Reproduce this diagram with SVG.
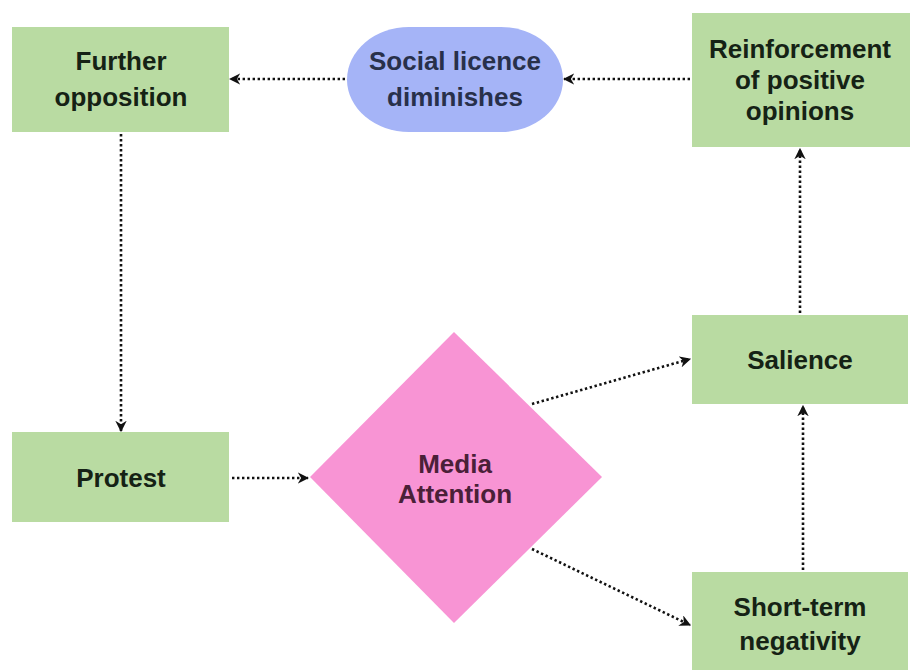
<svg xmlns="http://www.w3.org/2000/svg" width="912" height="670" viewBox="0 0 912 670">
  <style>
    .box { fill: #b9dba2; }
    .oval { fill: #a5b4f7; }
    .diamond { fill: #f894d4; }
    text { font-family: "Liberation Sans", Arial, sans-serif; font-weight: bold; font-size: 26px; text-anchor: middle; }
    .t-green { fill: #152215; }
    .t-blue { fill: #28304a; }
    .t-pink { fill: #4a2038; }
    .link { fill: none; stroke: #111; stroke-width: 2.6; stroke-dasharray: 2.4 2.6; marker-end: url(#arrow); }
  </style>
  <defs>
    <marker id="arrow" viewBox="0 0 10 10" refX="9" refY="5" markerWidth="4.4" markerHeight="4.4" orient="auto" markerUnits="strokeWidth">
      <path d="M0,0 L10,5 L0,10 L3,5 z" fill="#111"/>
    </marker>
  </defs>
  <rect width="912" height="670" fill="#ffffff"/>

  <g id="connectors">
    <line class="link" x1="345" y1="79" x2="230" y2="79"/>
    <line class="link" x1="690" y1="79" x2="564" y2="79"/>
    <line class="link" x1="121" y1="134" x2="121" y2="431"/>
    <line class="link" x1="232" y1="478" x2="308" y2="478"/>
    <line class="link" x1="532" y1="404" x2="690" y2="359"/>
    <line class="link" x1="532" y1="549" x2="690" y2="625"/>
    <line class="link" x1="803" y1="570" x2="803" y2="406"/>
    <line class="link" x1="800" y1="313" x2="800" y2="149"/>
  </g>

  <g id="further-opposition">
    <rect class="box" x="12" y="27" width="217" height="105"/>
    <text class="t-green" x="121" y="70">Further</text>
    <text class="t-green" x="121" y="106">opposition</text>
  </g>

  <g id="social-licence">
    <rect class="oval" x="347" y="27" width="216" height="105" rx="62" ry="52.5"/>
    <text class="t-blue" x="455" y="70">Social licence</text>
    <text class="t-blue" x="455" y="106">diminishes</text>
  </g>

  <g id="reinforcement">
    <rect class="box" x="692" y="13" width="218" height="134"/>
    <text class="t-green" x="800" y="58">Reinforcement</text>
    <text class="t-green" x="800" y="89">of positive</text>
    <text class="t-green" x="800" y="120">opinions</text>
  </g>

  <g id="salience">
    <rect class="box" x="692" y="315" width="216" height="89"/>
    <text class="t-green" x="800" y="369">Salience</text>
  </g>

  <g id="protest">
    <rect class="box" x="12" y="432" width="217" height="90"/>
    <text class="t-green" x="121" y="487">Protest</text>
  </g>

  <g id="media-attention">
    <polygon class="diamond" points="454,332 602,477 454,623 310,477"/>
    <text class="t-pink" x="455" y="473">Media</text>
    <text class="t-pink" x="455" y="503">Attention</text>
  </g>

  <g id="short-term-negativity">
    <rect class="box" x="692" y="572" width="216" height="98"/>
    <text class="t-green" x="800" y="616">Short-term</text>
    <text class="t-green" x="800" y="650">negativity</text>
  </g>
</svg>
